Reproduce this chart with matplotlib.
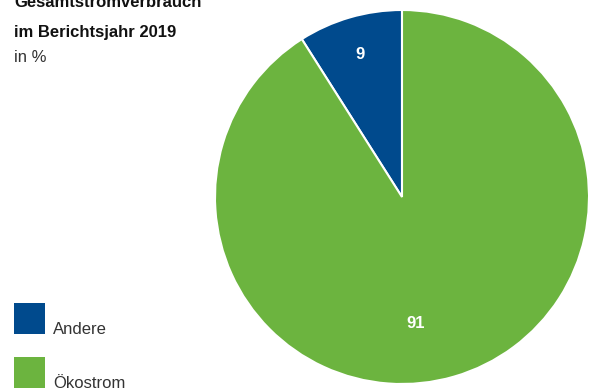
import matplotlib
matplotlib.use("Agg")
import matplotlib.pyplot as plt
from matplotlib.patches import Rectangle

labels = ["Andere", "Ökostrom"]
values = [9, 91]
colors = ["#004a8d", "#6cb43f"]
title_lines = ["Gesamtstromverbrauch", "im Berichtsjahr 2019"]
subtitle = "in %"

W, H = 591, 390
fig = plt.figure(figsize=(W/100, H/100), dpi=100)
fam = ["Liberation Sans", "DejaVu Sans"]

r = 187
cx, cy = 402, 197
ax = fig.add_axes([(cx - r)/W, (H - cy - r)/H, 2*r/W, 2*r/H])
wedges, texts = ax.pie(values, colors=colors, startangle=90, counterclock=True,
                       wedgeprops=dict(edgecolor="white", linewidth=1.5),
                       radius=1.0)
ax.set_xlim(-1, 1); ax.set_ylim(-1, 1)
ax.set_aspect("equal")
ax.axis("off")

# value labels
ax.text((360 - cx)/r, (cy - 55)/r, str(values[0]), color="white", fontsize=12,
        fontweight="bold", ha="center", va="center", family=fam)
ax.text((416 - cx)/r, (cy - 323)/r, str(values[1]), color="white", fontsize=12,
        fontweight="bold", ha="center", va="center", family=fam)

def px(x, y):
    return x / W, 1 - y / H

fig.text(*px(14, 7), title_lines[0], fontsize=12, fontweight="bold", family=fam,
         ha="left", va="baseline", color="#111111")
fig.text(*px(14, 37), title_lines[1], fontsize=12, fontweight="bold", family=fam,
         ha="left", va="baseline", color="#111111")
fig.text(*px(14, 62), subtitle, fontsize=12, family=fam,
         ha="left", va="baseline", color="#333333")

# legend
for i, (lab, col) in enumerate(zip(labels, colors)):
    top = 303 + i * 54
    fig.patches.append(Rectangle(px(14, top + 31), 31/W, 31/H, transform=fig.transFigure,
                                 facecolor=col, edgecolor="none", figure=fig))
    fig.text(*px(53, top + 31), lab, fontsize=12, family=fam, ha="left", va="baseline",
             color="#333333")

fig.savefig("out.png", dpi=100)
